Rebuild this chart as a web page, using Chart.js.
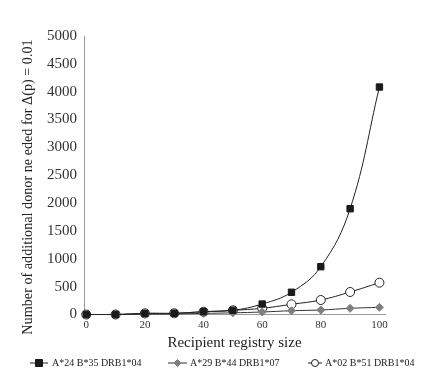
<!DOCTYPE html>
<html><head><meta charset="utf-8">
<script src="https://cdn.jsdelivr.net/npm/chart.js@4/dist/chart.umd.min.js"></script>
<style>html,body{margin:0;padding:0;background:#fff}#wrap{width:429px;height:381px;position:relative}</style>
</head><body><div id="wrap"><canvas id="c" width="429" height="381"></canvas></div>
<script>
const registrySize = [0, 10, 20, 30, 40, 50, 60, 70, 80, 90, 100];
const seriesNames = ["A*24 B*35 DRB1*04", "A*29 B*44 DRB1*07", "A*02 B*51 DRB1*04"];
const a24 = [0, 0, 20, 22, 50, 75, 188, 399, 858, 1899, 4084];
const a29 = [0, 0, 5, 10, 20, 30, 45, 68, 81, 111, 129];
const a02 = [0, 0, 20, 22, 50, 75, 111, 183, 260, 404, 571];
const xTicks = [0, 20, 40, 60, 80, 100];
const yTicks = [0, 500, 1000, 1500, 2000, 2500, 3000, 3500, 4000, 4500, 5000];
const xTitle = 'Recipient registry size';
const yTitle = 'Number of additional donor ne eded for Δ(p) = 0.01';

const serif = "'Liberation Serif', 'DejaVu Serif', serif";
function pts(arr){ return registrySize.map((x,i)=>({x:x, y:arr[i]})); }

const legendPos = [
  {sx:30, ex:48, tx:52},
  {sx:168, ex:187, tx:190},
  {sx:308, ex:322, tx:325}
];
const legendPlugin = {
  id:'customLegend',
  afterDraw(chart){
    const ctx = chart.ctx;
    const y = 363;
    chart.data.datasets.forEach((ds,i)=>{
      const p = legendPos[i];
      ctx.save();
      ctx.strokeStyle = ds.borderColor; ctx.lineWidth = 1;
      ctx.beginPath(); ctx.moveTo(p.sx, y); ctx.lineTo(p.ex, y); ctx.stroke();
      const cx = (p.sx+p.ex)/2;
      ctx.fillStyle = ds.pointBackgroundColor; ctx.strokeStyle = ds.pointBorderColor;
      ctx.beginPath();
      if (ds.pointStyle==='rect'){ ctx.rect(cx-3.5,y-3.5,7,7); }
      else if (ds.pointStyle==='rectRot'){ ctx.moveTo(cx,y-3.5);ctx.lineTo(cx+3.5,y);ctx.lineTo(cx,y+3.5);ctx.lineTo(cx-3.5,y);ctx.closePath(); }
      else { ctx.arc(cx,y,3.5,0,Math.PI*2); }
      ctx.fill(); ctx.stroke();
      ctx.fillStyle = '#222'; ctx.font = "10px " + serif; ctx.textBaseline='middle'; ctx.textAlign='left';
      ctx.fillText(ds.label, p.tx, y+0.5);
      ctx.restore();
    });
    const ca = chart.chartArea;
    // y axis title
    ctx.save();
    ctx.translate(28, 187);
    ctx.rotate(-Math.PI/2);
    ctx.fillStyle = '#222'; ctx.font = "14.2px " + serif; ctx.textAlign='center'; ctx.textBaseline='middle';
    ctx.fillText(yTitle, 0, 0);
    ctx.restore();
    // x axis title
    ctx.save();
    ctx.fillStyle = '#222'; ctx.font = "15px " + serif; ctx.textAlign='center'; ctx.textBaseline='middle';
    ctx.fillText(xTitle, (ca.left+ca.right)/2, 343);
    ctx.restore();
  }
};

new Chart(document.getElementById('c'), {
  type:'line',
  data:{ datasets:[
    {label:seriesNames[0], data:pts(a24), borderColor:'#222', borderWidth:1, pointStyle:'rect', pointRadius:4.5, pointBackgroundColor:'#1a1a1a', pointBorderColor:'#1a1a1a', tension:0.4},
    {label:seriesNames[1], data:pts(a29), borderColor:'#333', borderWidth:1, pointStyle:'rectRot', pointRadius:4, pointBackgroundColor:'#7f7f7f', pointBorderColor:'#7f7f7f', tension:0.4},
    {label:seriesNames[2], data:pts(a02), borderColor:'#222', borderWidth:1, pointStyle:'circle', pointRadius:4.5, pointBackgroundColor:'#fff', pointBorderColor:'#222', pointBorderWidth:1, tension:0.4}
  ]},
  options:{
    responsive:false, animation:false,
    clip:false,
    layout:{padding:{left:0, right:44, top:36, bottom:40}},
    plugins:{legend:{display:false}, tooltip:{enabled:false}},
    scales:{
      x:{ type:'linear', min:-0.78, max:101.9,
        afterBuildTicks(s){ s.ticks = xTicks.map(v=>({value:v})); },
        afterFit(s){ s.height = 26.5; },
        grid:{display:false, drawTicks:false}, border:{display:true, color:'#9a9a9a', width:1},
        ticks:{font:{family:serif, size:11}, color:'#333', padding:4, maxRotation:0, callback:v=>String(v)},
        title:{display:false}
      },
      y:{ min:0, max:5000,
        afterBuildTicks(s){ s.ticks = yTicks.map(v=>({value:v})); },
        afterFit(s){ s.width = 84; },
        grid:{display:false, drawTicks:false}, border:{display:true, color:'#9a9a9a', width:1},
        ticks:{font:{family:serif, size:15}, color:'#333', padding:7, callback:v=>String(v)},
        title:{display:false}
      }
    }
  },
  plugins:[legendPlugin]
});
</script></body></html>
